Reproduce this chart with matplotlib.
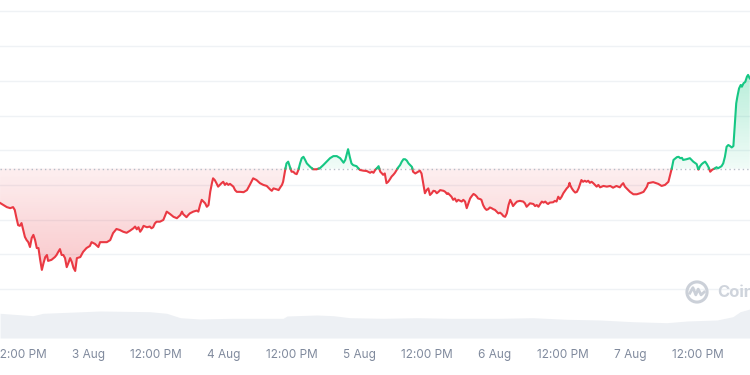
import numpy as np
import matplotlib
matplotlib.use("Agg")
import matplotlib.pyplot as plt
import matplotlib.colors as mcolors
from matplotlib.path import Path
from matplotlib.patches import Circle

plt.rcParams['font.family'] = ['Inter', 'DejaVu Sans']

# time in hours since 2 Aug 00:00, price in chart units (grid step = 10)
hours_1 = [8.4, 9.0, 9.6, 10.2, 10.7, 11.0, 11.3, 11.6, 11.9, 12.2, 12.5, 12.8, 13.1, 13.4, 13.7, 14.0,
           14.3, 14.6, 14.9, 15.2, 15.5, 15.8, 16.1, 16.4, 16.7, 16.9, 17.5, 18.1, 18.4, 18.7, 19.0, 19.3,
           19.6, 19.9, 20.2, 20.5, 20.8, 21.1, 21.4, 21.7, 22.0, 22.6, 23.1, 23.7, 24.3, 24.6, 25.2, 25.8,
           26.1, 27.3, 27.9, 28.4, 29.0]
price_1 = [24.8, 24.2, 23.6, 23.3, 23.6, 22.8, 20.5, 18.4, 18.2, 19.0, 17.0, 15.0, 14.1, 13.5, 12.1, 14.7,
           15.6, 14.1, 11.8, 11.8, 8.4, 5.5, 7.5, 9.2, 9.8, 8.1, 8.4, 9.2, 9.8, 10.7, 11.5, 9.8,
           9.8, 8.9, 6.3, 7.5, 8.9, 7.8, 6.1, 5.2, 8.9, 9.2, 10.7, 11.8, 12.4, 13.5, 13.0, 12.1,
           13.5, 13.5, 14.1, 16.1, 17.3]

hours_2 = [29.6, 30.2, 30.8, 31.4, 32.0, 32.3, 32.6, 32.9, 33.2, 33.5, 33.8, 34.4, 34.9, 35.2, 35.5, 35.8,
           36.1, 36.7, 37.3, 37.9, 38.5, 39.1, 39.7, 40.3, 40.6, 40.8, 41.4, 41.7, 42.0, 42.6, 43.2, 43.5,
           43.8, 44.1, 44.4, 44.7, 45.0, 45.3, 45.6, 45.9, 46.1, 46.4, 46.7, 47.0, 47.3, 47.6, 47.9, 48.2,
           48.5, 48.8, 49.1, 49.7, 50.0, 50.3, 50.9]
price_2 = [17.0, 16.5, 16.2, 16.8, 17.5, 18.0, 17.2, 17.8, 16.5, 17.2, 18.2, 17.8, 18.0, 17.5, 17.8, 18.9,
           19.4, 19.4, 19.9, 22.3, 21.6, 20.8, 20.4, 21.3, 22.3, 21.6, 20.7, 21.3, 21.8, 22.3, 22.6, 22.3,
           24.2, 25.7, 25.2, 24.7, 23.7, 24.2, 28.0, 30.5, 31.9, 31.4, 30.5, 29.5, 30.0, 30.5, 30.9, 30.0,
           30.5, 30.0, 30.3, 29.5, 28.5, 28.0, 28.0]

hours_3 = [51.5, 52.1, 52.6, 53.2, 53.8, 54.4, 55.0, 55.6, 56.2, 56.5, 56.8, 57.4, 57.7, 58.0, 58.3, 58.5,
           58.8, 59.1, 59.4, 59.7, 60.0, 60.3, 60.6, 60.9, 61.2, 61.5, 61.8, 62.1, 62.4, 62.7, 63.0, 63.3,
           63.6, 63.8, 64.4, 65.0, 65.6, 66.2, 66.8, 67.4, 68.0, 68.6, 69.2, 69.5, 69.8, 70.0, 70.3, 70.6,
           70.9, 71.5, 71.8]
price_3 = [27.9, 28.5, 30.0, 31.9, 31.4, 30.5, 30.0, 29.7, 28.7, 28.3, 29.0, 28.7, 28.5, 29.3, 30.0, 30.9,
           33.8, 36.2, 36.7, 35.2, 33.8, 33.8, 33.3, 33.1, 34.3, 36.2, 37.7, 38.1, 37.2, 36.2, 35.7, 35.2,
           34.8, 34.5, 34.5, 34.8, 35.7, 36.7, 37.7, 38.3, 38.3, 37.7, 36.4, 37.2, 39.1, 40.3, 38.1, 36.2,
           35.7, 35.4, 34.8]

hours_4 = [72.1, 72.7, 73.3, 73.9, 74.2, 74.5, 74.8, 75.1, 75.4, 75.7, 76.0, 76.2, 76.5, 76.8, 77.1, 77.4,
           77.7, 78.0, 78.3, 78.6, 78.9, 79.2, 79.5, 79.8, 80.1, 80.4, 80.7, 81.0, 81.3, 81.5, 81.9, 82.1,
           82.4, 82.7, 83.0, 83.3, 83.6, 83.9, 84.2, 84.5, 84.8, 85.1, 85.4, 85.7, 86.0, 86.3, 86.9, 87.2,
           87.5, 87.7, 88.0, 88.3, 88.6, 88.9, 89.2, 89.5, 90.1, 90.4, 90.7, 91.0, 91.3, 91.6, 91.9, 92.2,
           92.5, 92.8, 93.0]
price_4 = [34.3, 34.1, 34.0, 33.5, 33.8, 33.5, 34.3, 34.8, 35.4, 33.8, 33.3, 32.9, 33.3, 30.5, 30.9, 31.6,
           32.4, 32.9, 33.5, 34.3, 35.1, 35.7, 36.7, 37.4, 37.4, 37.0, 36.2, 35.7, 35.2, 33.8, 33.3, 33.5,
           33.8, 34.1, 33.3, 30.5, 27.6, 28.5, 29.0, 27.1, 27.6, 28.3, 28.2, 27.6, 28.0, 28.5, 28.3, 28.0,
           27.4, 27.6, 27.1, 26.6, 25.7, 26.1, 25.2, 25.7, 25.2, 25.7, 25.2, 23.3, 24.7, 26.1, 26.8, 27.4,
           27.1, 26.6, 26.1]

hours_5 = [93.4, 93.6, 93.9, 94.2, 94.5, 94.8, 95.1, 95.4, 95.7, 96.0, 96.3, 96.6, 96.9, 97.2, 97.5, 97.8,
           98.1, 98.4, 98.7, 99.0, 99.2, 99.6, 99.9, 100.4, 101.0, 101.3, 101.6, 101.9, 102.2, 102.8, 103.1,
           103.4, 103.7, 104.0, 104.3, 104.6, 104.9, 105.2, 105.4, 105.7, 106.3, 106.6, 106.9, 107.2, 107.5,
           107.8, 108.1, 108.4, 108.7, 109.0, 109.2, 109.3, 109.6, 109.9, 110.2, 110.5, 110.8, 111.1, 111.3,
           111.6, 111.9, 112.2, 112.5, 112.8, 113.1, 113.4, 113.7, 114.0, 114.3, 114.6, 114.9]
price_5 = [25.9, 25.7, 24.2, 23.3, 22.8, 23.0, 23.5, 23.3, 23.0, 22.8, 22.3, 21.8, 22.0, 21.6, 21.0, 20.8,
           21.8, 24.2, 25.7, 24.7, 23.9, 24.7, 25.2, 25.4, 25.2, 24.7, 23.7, 24.2, 24.7, 24.5, 23.9,
           24.2, 23.7, 24.5, 25.2, 24.9, 25.2, 24.7, 24.5, 24.9, 25.0, 25.4, 25.2, 26.6, 25.9,
           26.6, 27.6, 28.3, 29.0, 29.5, 30.6, 30.0, 29.0, 28.3, 27.8, 28.0, 29.0, 30.5, 31.4,
           30.9, 31.2, 30.9, 31.2, 30.6, 30.9, 30.5, 30.0, 29.5, 30.0, 29.3, 29.5]

hours_6 = [115.2, 115.8, 116.4, 116.9, 117.5, 118.1, 118.4, 118.7, 119.0, 119.3, 119.9, 120.5, 121.1, 121.7,
           122.3, 122.9, 123.1, 124.0, 124.9, 125.5, 126.1, 126.7, 127.0, 127.3, 127.6, 128.2, 128.5, 128.8,
           129.1, 129.3, 129.9, 130.5, 130.8, 131.1, 131.7, 132.0, 132.3, 132.6, 132.9, 133.2, 133.5, 133.8,
           134.1, 134.4, 134.6, 135.0, 135.2, 135.5, 135.8, 136.1, 136.4, 136.7, 137.0, 137.3, 137.6, 137.9,
           138.2, 138.5, 138.7, 138.9, 139.1, 139.2, 139.5, 139.7, 140.0, 140.3, 140.6, 140.8, 141.1]
price_6 = [29.7, 29.5, 29.7, 29.2, 29.7, 29.3, 30.0, 30.5, 29.5, 29.0, 28.0, 27.3, 27.3, 27.6,
           28.0, 29.5, 30.5, 30.8, 30.3, 29.7, 30.0, 30.9, 32.9, 34.8, 37.2, 38.0, 38.1, 37.7,
           37.8, 37.2, 37.4, 37.7, 37.2, 36.7, 36.0, 34.4, 35.4, 36.0, 36.4, 36.7, 36.0, 35.1,
           33.8, 34.3, 34.5, 34.8, 35.1, 34.8, 35.1, 35.4, 36.2, 38.1, 41.0, 41.5, 41.2, 40.8,
           41.2, 48.7, 53.5, 55.4, 56.9, 57.8, 58.8, 58.3, 59.3, 59.7, 61.2, 61.7, 60.7]

open_price = 34.7  # dotted reference line

vol_hours = [8.4, 14.2, 16.0, 23.1, 26.1, 34.9, 37.9, 40.3, 43.8, 49.6, 52.6, 58.5, 59.2, 64.5, 67.4,
             70.3, 76.2, 82.2, 88.0, 96.9, 102.7, 108.7, 114.6, 120.4, 126.4, 130.0, 135.3, 138.1, 139.4, 141.1]
volume = [24.7, 22.3, 24.7, 26.3, 27.0, 26.3, 24.7, 20.3, 19.0, 19.7, 19.7, 19.7, 22.0, 23.0, 22.3,
          20.3, 19.7, 20.3, 19.7, 19.7, 20.3, 18.7, 18.0, 16.3, 15.3, 17.0, 18.0, 21.3, 26.3, 29.0]

tick_hours = [12, 24, 36, 48, 60, 72, 84, 96, 108, 120, 132]
tick_labels = ['12:00 PM', '3 Aug', '12:00 PM', '4 Aug', '12:00 PM', '5 Aug',
               '12:00 PM', '6 Aug', '12:00 PM', '7 Aug', '12:00 PM']

red = '#ea3943'
green = '#16c784'

hours = np.concatenate([hours_1, hours_2, hours_3, hours_4, hours_5, hours_6])
price = np.concatenate([price_1, price_2, price_3, price_4, price_5, price_6])

# add the points where the line crosses the open price so colours switch cleanly
xs, ys = [hours[0]], [price[0]]
for i in range(1, len(hours)):
    if (price[i - 1] - open_price) * (price[i] - open_price) < 0:
        f = (open_price - price[i - 1]) / (price[i] - price[i - 1])
        xs.append(hours[i - 1] + f * (hours[i] - hours[i - 1]))
        ys.append(open_price)
    xs.append(hours[i])
    ys.append(price[i])
xs = np.array(xs)
ys = np.array(ys)

fig = plt.figure(figsize=(7.5, 3.75), dpi=100)
axv = fig.add_axes([0, 37 / 375, 1, 40 / 375])
ax = fig.add_axes([0, 37 / 375, 1, 338 / 375])
ax.patch.set_alpha(0)

# volume strip
axv.fill_between(vol_hours, volume, 0, color='#edf0f4', lw=0)
axv.set_xlim(8.39, 141.14)
axv.set_ylim(0, 40)
axv.axis('off')


def gradient_fill(ax, x, y, base, color, above, a_near, a_far, far):
    where = y >= base if above else y <= base
    poly = ax.fill_between(x, y, base, where=where, interpolate=True, color='none', lw=0)
    clip = Path.make_compound_path(*poly.get_paths())
    img = np.zeros((200, 1, 4))
    img[..., :3] = mcolors.to_rgb(color)
    if above:
        img[:, 0, 3] = np.linspace(a_near, a_far, 200)
        ext = [x[0], x[-1], base, far]
    else:
        img[:, 0, 3] = np.linspace(a_far, a_near, 200)
        ext = [x[0], x[-1], far, base]
    im = ax.imshow(img, extent=ext, origin='lower', aspect='auto', interpolation='bilinear', zorder=1)
    im.set_clip_path(clip, transform=ax.transData)


gradient_fill(ax, xs, ys, open_price, red, False, 0.08, 0.28, ys.min())
gradient_fill(ax, xs, ys, open_price, green, True, 0.06, 0.30, ys.max())

ax.axhline(open_price, color='#b5bcc7', lw=1, ls=(0, (1, 2.2)), zorder=2)

above = np.ma.masked_where(ys < open_price, ys)
below = np.ma.masked_where(ys > open_price, ys)
ax.plot(xs, below, color=red, lw=1.5, zorder=3, solid_joinstyle='round')
ax.plot(xs, above, color=green, lw=1.5, zorder=3, solid_joinstyle='round')

ax.set_xlim(8.39, 141.14)
ax.set_ylim(-14.12, 83.29)
ax.set_yticks(np.arange(0, 81, 10))
ax.grid(axis='y', color='#eff2f5', lw=1)
ax.set_axisbelow(True)
ax.set_xticks(tick_hours, tick_labels)
ax.tick_params(axis='x', length=0, pad=8, labelsize=8.5, labelcolor='#808a9d')
ax.tick_params(axis='y', length=0, labelleft=False)
for s in ax.spines.values():
    s.set_visible(False)

# watermark
axl = fig.add_axes([685 / 750, 71 / 375, 24 / 750, 24 / 375])
axl.add_patch(Circle((0.5, 0.5), 0.42, fill=False, lw=2.2, color='#cbd0d8'))
axl.plot([0.2, 0.33, 0.45, 0.55, 0.67, 0.8], [0.45, 0.68, 0.38, 0.62, 0.38, 0.5], color='#cbd0d8', lw=2)
axl.set_xlim(0, 1)
axl.set_ylim(0, 1)
axl.axis('off')
fig.text(717 / 750, 1 - 292 / 375, 'CoinMarketCap', fontsize=12, weight='bold', color='#cfd4dc', va='center')

fig.savefig('out.png', dpi=100)
